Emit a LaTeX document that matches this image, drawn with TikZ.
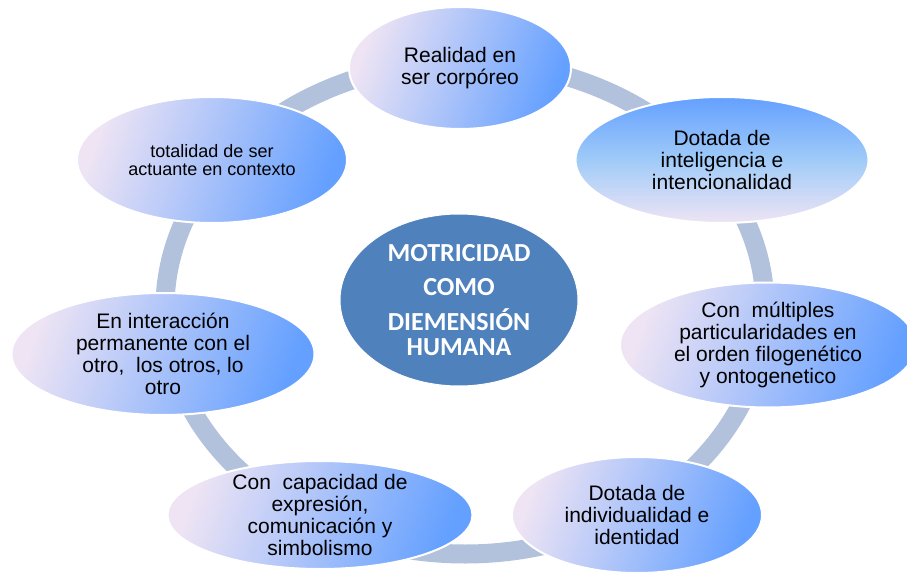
\documentclass[tikz,border=0pt]{standalone}
\usepackage{fontspec}
\setmainfont{Liberation Sans}
\newfontfamily\calibrifont{Carlito}
\definecolor{anillocolor}{RGB}{179,194,220}
\definecolor{nucleocolor}{RGB}{79,129,189}
\definecolor{lilacolor}{RGB}{238,228,244}
\definecolor{celestecolor}{RGB}{160,203,248}
\definecolor{azulcolor}{RGB}{100,160,255}
\usetikzlibrary{shapes,positioning}
\tikzset{
	anillo/.style={
		draw=anillocolor,
		line width=19pt
	},
	rasgo/.style={
		ellipse,
		draw=white,
		line width=2pt,
		left color=lilacolor,
		middle color=celestecolor,
		right color=azulcolor,
		shading angle=70,
		inner sep=-14pt,
		align=center,
		font=\fontsize{21}{22}\selectfont
	},
	vrasgo/.style={
		rasgo,
		top color=azulcolor,
		bottom color=lilacolor,
		middle color=celestecolor
	},
	nucleo/.style={
		ellipse,
		draw=white,
		line width=1pt,
		fill=nucleocolor,
		text=white,
		inner sep=-14pt,
		minimum width=238pt,
		minimum height=172pt,
		align=center,
		font=\calibrifont\bfseries\fontsize{26}{30}\selectfont
	},
}

\begin{document}
\begin{tikzpicture}[x=1pt,y=1pt]
	\useasboundingbox (0,0) rectangle (907,571);
	\coordinate (eje) at (465,263);
	\draw [anillo] (eje) ellipse [x radius=300, y radius=246];

	\node [rasgo, minimum width=222pt, minimum height=122pt] (realidad) at (460,503) {Realidad en\\ser corpóreo};
	\node [vrasgo, minimum width=293pt, minimum height=126pt] (inteligencia) at (722,411) {Dotada de\\inteligencia e\\intencionalidad};
	\node [rasgo, minimum width=296pt, minimum height=125pt] (multiples) at (768,226) {Con\ \ múltiples\\particularidades en\\el orden filogenético\\y ontogenetico};
	\node [rasgo, minimum width=250pt, minimum height=116pt] (individualidad) at (637,56) {Dotada de\\individualidad e\\identidad};
	\node [rasgo, minimum width=305pt, minimum height=108pt] (capacidad) at (320,56) {Con\ \ capacidad de\\expresión,\\comunicación y\\simbolismo};
	\node [rasgo, minimum width=303pt, minimum height=122pt] (interaccion) at (163,217) {En interacción\\permanente con el\\otro,\ \ los otros, lo\\otro};
	\node [rasgo, minimum width=270pt, minimum height=126pt, font=\fontsize{18}{17.5}\selectfont] (totalidad) at (212,411) {totalidad de ser\\actuante en contexto};

	\node [nucleo] (motricidad) at (459,271) {MOTRICIDAD\\[4pt]COMO\\[5pt]DIEMENSIÓN\\[-5pt]HUMANA};
\end{tikzpicture}
\end{document}
